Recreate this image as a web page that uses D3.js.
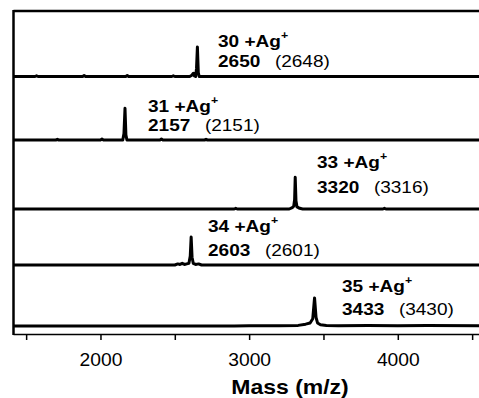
<!DOCTYPE html>
<html>
<head>
<meta charset="utf-8">
<script src="https://cdn.jsdelivr.net/npm/d3@7/dist/d3.min.js"></script>
<style>
  html, body { margin: 0; padding: 0; background: #fff; }
  svg { display: block; }
</style>
</head>
<body>
<svg id="chart" width="479" height="398"></svg>
<script>
// ---------------- data ----------------
const compounds = ["30", "31", "33", "34", "35"];
const foundMass = [2650, 2157, 3320, 2603, 3433];
const calcMass  = [2648, 2151, 3316, 2601, 3430];

// spectra: [mass (m/z), relative intensity %]
const spec30 = [[1415,0],[1560,0],[1570,1],[1580,0],[1880,0],[1890,1.5],[1900,0],[2170,0],[2180,1.5],[2190,0],
  [2480,0],[2490,1],[2500,0],[2600,0],[2615,2],[2625,5],[2632,1],[2640,0],[2646,12],[2652,45],[2658,6],[2664,0],[4600,0]];
const spec31 = [[1415,0],[1700,0],[1710,1],[1720,0],[2000,0],[2010,1.5],[2020,0],[2150,0],[2158,10],[2165,50],[2171,8],[2178,0],
  [2400,0],[2410,1.5],[2420,0],[2700,0],[2710,1],[2720,0],[4600,0]];
const spec33 = [[1415,0],[2900,0],[2910,1],[2920,0],[3270,0],[3290,2],[3300,4],[3306,14],[3310,46],[3315,12],[3322,3],[3340,1],[3360,0],
  [3900,0],[3910,1],[3920,0],[4600,0]];
const spec34 = [[1415,0],[2500,0],[2520,2],[2535,1],[2550,3],[2565,1],[2580,2],[2595,3],[2604,16],[2610,50],[2616,14],[2624,3],
  [2640,1],[2660,2],[2680,0],[4600,0]];
const spec35 = [[1415,0],[2900,0],[3000,0.5],[3200,0.5],[3330,1],[3380,3],[3410,5],[3428,12],[3440,46],[3450,14],[3460,5],[3480,2],
  [3520,1],[3600,0.5],[3800,1],[4000,0.5],[4200,1],[4600,0.5]];
const spectra = [spec30, spec31, spec33, spec34, spec35];

const xTicks = [1500, 2000, 2500, 3000, 3500, 4000, 4500];
const xTickLabels = [2000, 3000, 4000];
const xTitle = "Mass (m/z)";

// ---------------- layout ----------------
const frameLeft = 13.5, frameRight = 490, frameTop = 11, axisY = 334;
const panelBottoms = [76.5, 140, 209, 265, 326];
const labelPos = [  // [x, line1 baseline, line2 baseline]
  [218, 47, 67], [148, 112, 131], [317, 168, 193], [208, 232, 256], [342, 292, 315]
];
const FONT = "'Liberation Sans', Arial, Helvetica, sans-serif";

const svg = d3.select("#chart");
const x = d3.scaleLinear().domain([1415, 4600]).range([frameLeft, 487]);

// frame
svg.append("line").attr("x1", frameLeft).attr("x2", frameRight).attr("y1", frameTop).attr("y2", frameTop)
  .attr("stroke", "#000").attr("stroke-width", 2.5);
svg.append("line").attr("x1", frameLeft).attr("x2", frameLeft).attr("y1", frameTop - 1).attr("y2", axisY + 1)
  .attr("stroke", "#000").attr("stroke-width", 2.5);

// panels
spectra.forEach((spec, i) => {
  const top = i === 0 ? frameTop : panelBottoms[i - 1];
  const bottom = panelBottoms[i];
  const y = d3.scaleLinear().domain([0, 100]).range([bottom, top]);
  svg.append("path")
    .datum(spec)
    .attr("d", d3.line().x(d => x(d[0])).y(d => y(d[1])))
    .attr("fill", "none").attr("stroke", "#000").attr("stroke-width", 3)
    .attr("stroke-linejoin", "round");

  const [lx, l1, l2] = labelPos[i];
  const t1 = svg.append("text").attr("transform", `translate(${lx},${l1}) scale(1.12,1)`)
    .attr("font-family", FONT).attr("font-size", 17).attr("font-weight", "bold").attr("fill", "#000");
  t1.append("tspan").text(compounds[i] + " +Ag");
  t1.append("tspan").attr("font-size", 11).attr("dy", -8).text("+");
  const t2 = svg.append("text").attr("transform", `translate(${lx},${l2}) scale(1.12,1)`)
    .attr("font-family", FONT).attr("font-size", 17).attr("fill", "#000");
  t2.append("tspan").attr("font-weight", "bold").text(foundMass[i]);
  t2.append("tspan").attr("dx", 13).text("(" + calcMass[i] + ")");
});

// x axis
const axis = d3.axisBottom(x).tickValues(xTicks).tickSize(6).tickSizeOuter(0)
  .tickFormat(d => xTickLabels.includes(d) ? d : "");
const gx = svg.append("g").attr("transform", `translate(0,${axisY})`).call(axis);
gx.select(".domain").attr("stroke", "#000").attr("stroke-width", 1.5)
  .attr("d", `M${frameLeft},0.5H${frameRight}`);
gx.selectAll(".tick line").attr("stroke", "#000").attr("stroke-width", 1.5);
gx.selectAll(".tick text").attr("font-family", FONT).attr("font-size", 18).attr("fill", "#000")
  .attr("dy", "1.3em").attr("transform", "scale(1.07,1)");

svg.append("text").attr("transform", "translate(290,394) scale(1.15,1)").attr("text-anchor", "middle")
  .attr("font-family", FONT).attr("font-size", 20).attr("font-weight", "bold").attr("fill", "#000")
  .text(xTitle);
</script>
</body>
</html>
